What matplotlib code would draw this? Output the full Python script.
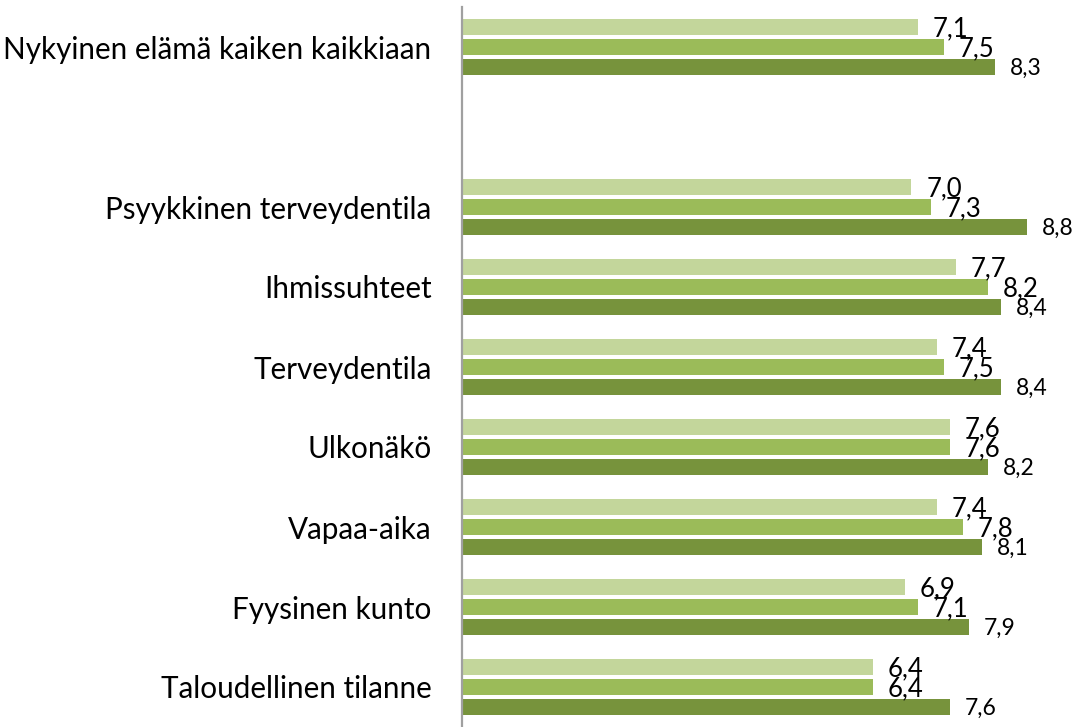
import matplotlib.pyplot as plt
import numpy as np

plt.rcParams['font.family'] = ['Lato', 'DejaVu Sans']

categories = ['Nykyinen elämä kaiken kaikkiaan', '',
              'Psyykkinen terveydentila', 'Ihmissuhteet', 'Terveydentila',
              'Ulkonäkö', 'Vapaa-aika', 'Fyysinen kunto', 'Taloudellinen tilanne']
sarja1 = [7.1, np.nan, 7.0, 7.7, 7.4, 7.6, 7.4, 6.9, 6.4]
sarja2 = [7.5, np.nan, 7.3, 8.2, 7.5, 7.6, 7.8, 7.1, 6.4]
sarja3 = [8.3, np.nan, 8.8, 8.4, 8.4, 8.2, 8.1, 7.9, 7.6]

colors = ['#c3d69b', '#9bbb59', '#77933c']
label_sizes = [18.5, 18.5, 16.5]

fig = plt.figure(figsize=(10.81, 7.27), dpi=100)
ax = fig.add_axes([462/1081, 0, 619/1081, 720/727])

y = np.arange(len(categories))
h = 0.2
for i, (vals, c, fs) in enumerate(zip([sarja1, sarja2, sarja3], colors, label_sizes)):
    pos = y + (i - 1) * 0.25
    ax.barh(pos, vals, height=h, color=c, edgecolor='none')
    for p, v in zip(pos, vals):
        if np.isnan(v):
            continue
        ax.text(v + 0.23, p + 0.02, f'{v:.1f}'.replace('.', ','), va='center', ha='left',
                fontsize=fs, color='black', clip_on=False)

ax.set_xlim(0, 619/64.2)
ax.set_ylim(len(categories) - 0.5, -0.5)
ax.set_yticks(y)
ax.set_yticklabels(categories, fontsize=21.3)
ax.tick_params(axis='y', length=0, pad=22)
ax.set_xticks([])
for s in ['top', 'right', 'bottom']:
    ax.spines[s].set_visible(False)
ax.spines['left'].set_color('#a0a0a0')
ax.spines['left'].set_linewidth(1.6)

plt.savefig('out.png', dpi=100)
